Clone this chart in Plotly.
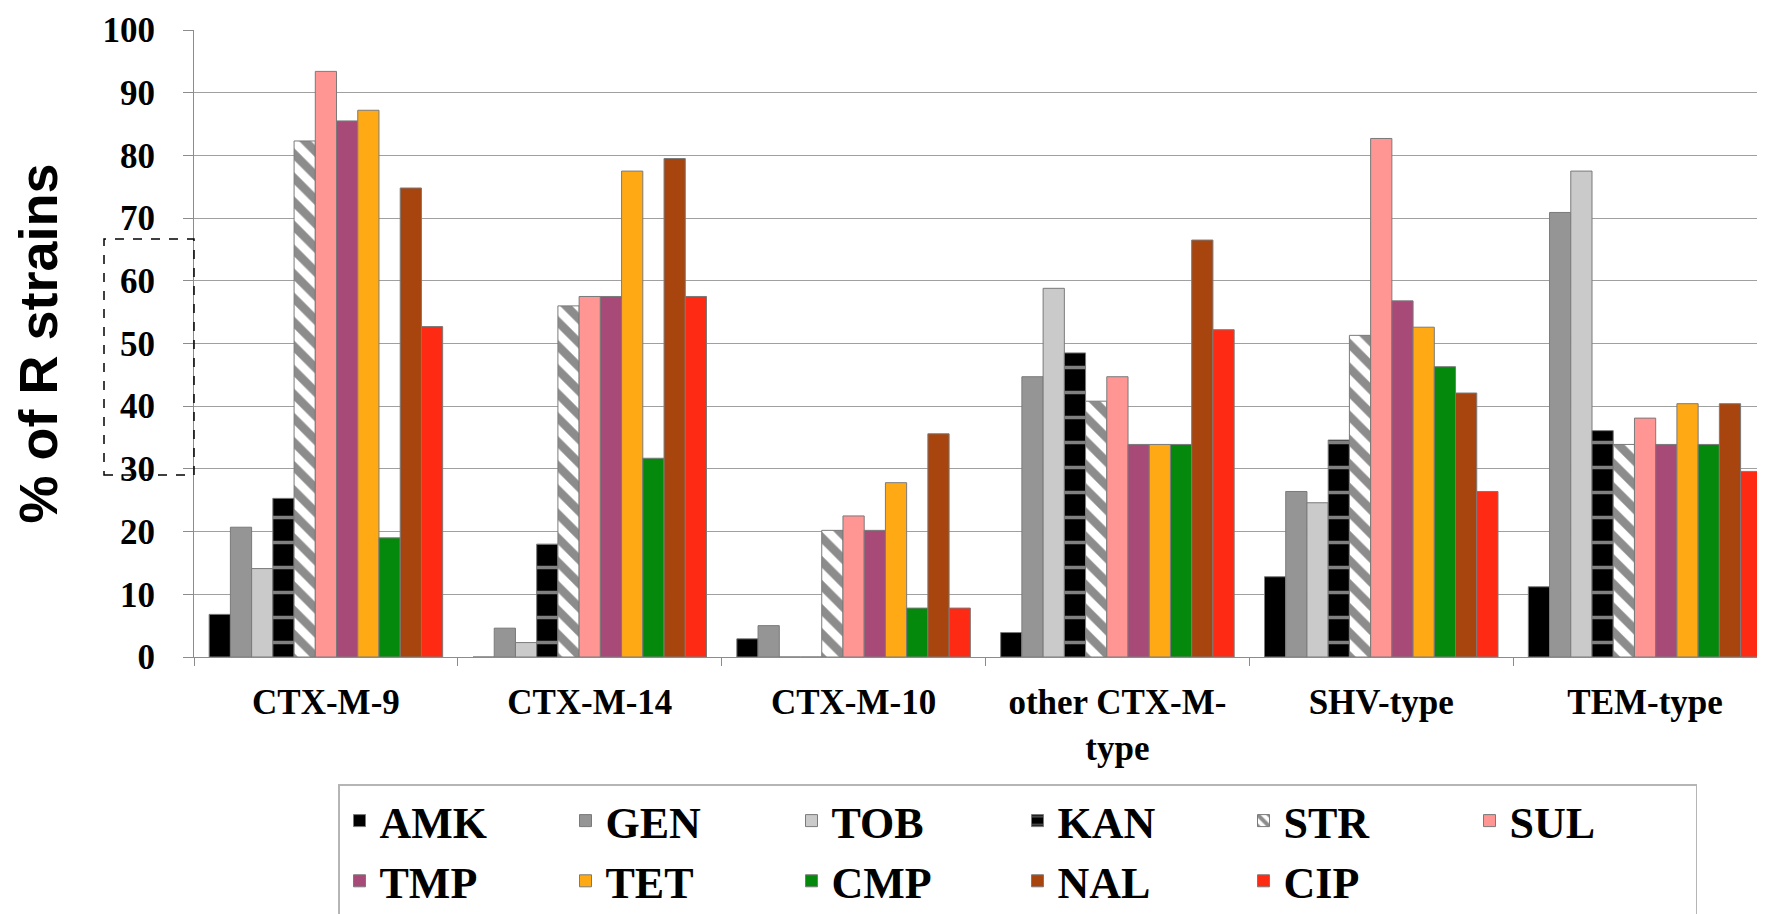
import plotly.graph_objects as go

categories = ["CTX-M-9", "CTX-M-14", "CTX-M-10", "other CTX-M-<br>type", "SHV-type", "TEM-type"]

AMK = [6.8, 0.0, 2.9, 3.9, 12.8, 11.2]
GEN = [20.7, 4.6, 5.0, 44.7, 26.4, 70.9]
TOB = [14.1, 2.3, 0.0, 58.8, 24.6, 77.5]
KAN = [25.3, 18.0, 0.0, 48.5, 34.6, 36.1]
STR = [82.3, 56.0, 20.2, 40.8, 51.3, 33.9]
SUL = [93.4, 57.5, 22.5, 44.7, 82.7, 38.1]
TMP = [85.5, 57.5, 20.2, 33.9, 56.8, 33.9]
TET = [87.2, 77.5, 27.8, 33.9, 52.6, 40.4]
CMP = [19.0, 31.7, 7.8, 33.9, 46.3, 33.9]
NAL = [74.8, 79.5, 35.6, 66.5, 42.1, 40.4]
CIP = [52.7, 57.5, 7.8, 52.2, 26.4, 29.6]

series_names = ["AMK", "GEN", "TOB", "KAN", "STR", "SUL", "TMP", "TET", "CMP", "NAL", "CIP"]
series_values = [AMK, GEN, TOB, KAN, STR, SUL, TMP, TET, CMP, NAL, CIP]
series_colors = ["#000000", "#959595", "#cacaca", "#000000", "#ffffff", "#ff9693",
                 "#a84a78", "#ffaa14", "#05890c", "#a8440d", "#ff2a14"]

fig = go.Figure()
for name, vals, col in zip(series_names, series_values, series_colors):
    pattern = None
    if name == "KAN":
        pattern = dict(shape="-", fgcolor="#ffffff", bgcolor="#000000", size=25, solidity=0.14)
    elif name == "STR":
        pattern = dict(shape="\\", fgcolor="#1a1a1a", bgcolor="#ffffff", size=17, solidity=0.5)
    marker = dict(color=col, line=dict(color="#7a7a7a", width=1))
    if pattern:
        marker["pattern"] = pattern
    fig.add_trace(go.Bar(name=name, x=categories, y=vals, marker=marker))

# the page body has an 8px margin, so the figure is offset by 8px in the window
OFF = 8
W, H = 1765 - OFF, 914 - OFF
L, R, T = 194 - OFF, 0, 30 - OFF
ph = 627
B = H - T - ph
pw = W - L - R

fig.update_layout(
    width=W, height=H,
    margin=dict(l=L, r=R, t=T, b=B, autoexpand=False),
    barmode="group",
    bargap=0.115,
    bargroupgap=0,
    plot_bgcolor="#ffffff",
    paper_bgcolor="#ffffff",
    font=dict(family="Liberation Serif", color="#000000"),
    legend=dict(
        orientation="h",
        x=(338 - OFF - L) / pw, xanchor="left",
        y=(T + ph - (784 - OFF)) / ph, yanchor="top",
        font=dict(family="Liberation Serif", size=44, color="#000000", weight="bold"),
        bordercolor="#b5b5b5", borderwidth=1.5,
        bgcolor="#ffffff",
        entrywidth=181, entrywidthmode="pixels",
        traceorder="normal",
    ),
    showlegend=True,
)

fig.update_xaxes(
    type="category",
    automargin=False,
    range=[-0.5, 5.5 - 12 / 264],
    showline=True, linecolor="#8c8c8c", linewidth=1,
    ticks="outside", tickson="boundaries", ticklen=8, tickcolor="#8c8c8c",
    tickfont=dict(family="Liberation Serif", size=35, color="#000000", weight="bold"),
    ticklabelstandoff=14,
    showgrid=False,
)
fig.update_yaxes(
    automargin=False,
    range=[0, 100],
    tickvals=[0, 10, 20, 30, 40, 50, 60, 70, 80, 90, 100],
    showline=True, linecolor="#8c8c8c", linewidth=1,
    ticks="outside", ticklen=10, tickcolor="#8c8c8c",
    showgrid=True, gridcolor="#a0a0a0", gridwidth=1,
    zeroline=False,
    tickfont=dict(family="Liberation Serif", size=35, color="#000000", weight="bold"),
    ticklabelstandoff=21,
    title=dict(text="% of R strains",
               font=dict(family="Liberation Sans", size=54, color="#000000", weight="bold"),
               standoff=63),
)

# dashed selection box seen at the left of the reference
fig.add_shape(type="rect", xref="paper", yref="paper",
              x0=(104 - 194) / pw, x1=0, y0=(657 - 475) / ph, y1=(657 - 239) / ph,
              line=dict(color="#000000", width=1.5, dash="dash"), fillcolor="rgba(0,0,0,0)")

fig.write_html("out.html")
